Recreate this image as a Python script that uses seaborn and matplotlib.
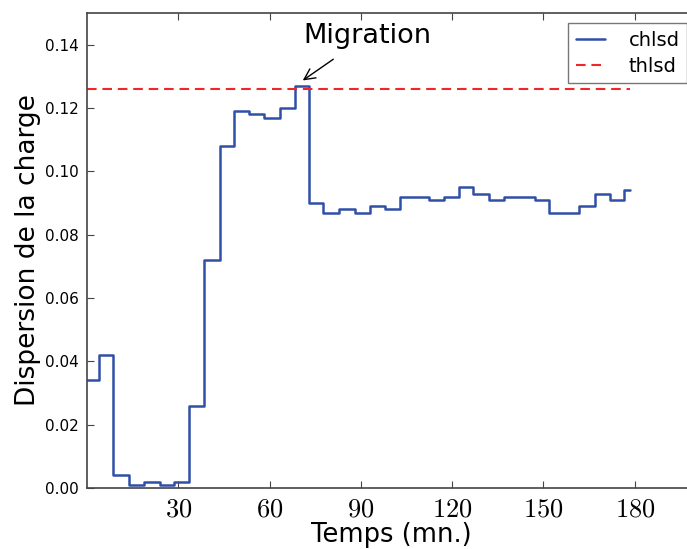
import seaborn as sns
import matplotlib.pyplot as plt
import pandas as pd
import numpy as np

# step start times (mn.) and load dispersion
temps = [0, 3.9, 8.5, 13.7, 18.7, 23.9, 28.6, 33.5, 38.4, 43.6, 48.2, 53.1,
         58.3, 63.3, 68.2, 72.8, 77.7, 82.9, 88.0, 92.9, 97.8, 102.7, 107.5,
         112.3, 117.2, 122.4, 127.0, 132.0, 136.9, 142.0, 147.1, 151.7, 156.7,
         161.6, 166.8, 171.7, 176.3, 178.3]
chlsd = [0.034, 0.042, 0.004, 0.001, 0.002, 0.001, 0.002, 0.026, 0.072, 0.108,
         0.119, 0.118, 0.117, 0.120, 0.127, 0.090, 0.087, 0.088, 0.087, 0.089,
         0.088, 0.092, 0.092, 0.091, 0.092, 0.095, 0.093, 0.091, 0.092, 0.092,
         0.091, 0.087, 0.087, 0.089, 0.093, 0.091, 0.094, 0.094]
thlsd = 0.126
xticks = [30, 60, 90, 120, 150, 180]
yticks = [0.00, 0.02, 0.04, 0.06, 0.08, 0.10, 0.12, 0.14]

df = pd.DataFrame({'temps': temps, 'chlsd': chlsd})
df['thlsd'] = thlsd

sns.set_style('ticks')
plt.rcParams['font.family'] = ['DejaVu Sans']
plt.rcParams['mathtext.fontset'] = 'cm'
plt.rcParams['text.color'] = 'black'
plt.rcParams['axes.labelcolor'] = 'black'
plt.rcParams['xtick.color'] = 'black'
plt.rcParams['ytick.color'] = 'black'

fig = plt.figure(figsize=(6.87, 5.49), dpi=100)
# axes runs past the right edge of the figure, as in the cropped original
ax = fig.add_axes([0.1266, 0.1111, 0.886, 0.8652])

sns.lineplot(data=df, x='temps', y='chlsd', ax=ax, color='#3050a8', lw=1.8,
             drawstyle='steps-post', label='chlsd')
sns.lineplot(data=df, x='temps', y='thlsd', ax=ax, color='#f0262b', lw=1.5,
             linestyle=(0, (4.6, 2.8)), label='thlsd')

ax.set_xlim(0, 200)
ax.set_ylim(0, 0.15)
ax.set_xticks(xticks)
ax.set_xticklabels([f'${t}$' for t in xticks], fontsize=19)
ax.set_yticks(yticks)
ax.set_yticklabels([f'{v:.2f}' for v in yticks], fontsize=11)
ax.tick_params(direction='in', top=True, right=True, length=5, width=0.8,
               color='#444444', pad=6)
for s in ax.spines.values():
    s.set_color('#444444')
    s.set_linewidth(1.2)

ax.set_xlabel('Temps (mn.)', fontsize=18.5, labelpad=0)
ax.set_ylabel('Dispersion de la charge', fontsize=19, labelpad=3)

ax.annotate('Migration', xy=(70.9, 0.1287), xytext=(92, 0.1428),
            ha='center', va='center', fontsize=19.5,
            arrowprops=dict(arrowstyle='->', color='black', lw=1.0,
                            shrinkA=9, shrinkB=0))

leg = ax.legend(loc='upper left', bbox_to_anchor=(0.791, 0.979),
                borderaxespad=0, fontsize=14, frameon=True, fancybox=False,
                handlelength=1.5, handletextpad=1.2, labelspacing=0.35,
                borderpad=0.4)
leg.get_frame().set_edgecolor('#555555')
leg.get_frame().set_linewidth(1.0)

fig.savefig('out.png', dpi=100)
